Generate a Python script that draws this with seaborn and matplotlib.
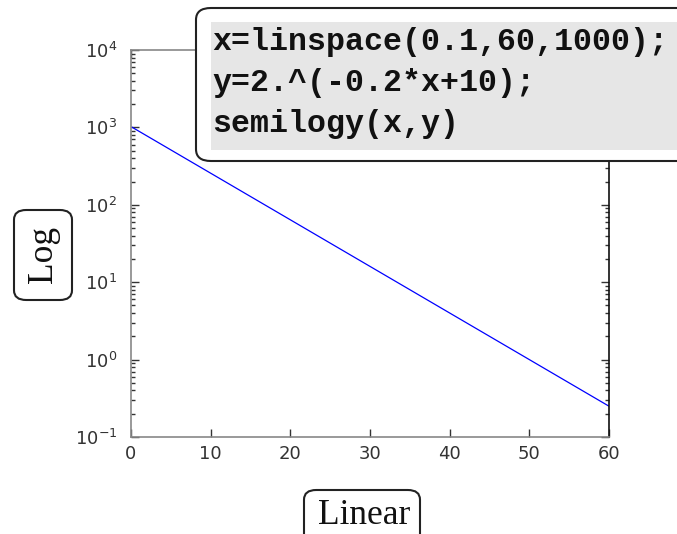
import matplotlib
matplotlib.use("Agg")
import matplotlib.pyplot as plt
import seaborn as sns
import pandas as pd
from matplotlib.patches import FancyBboxPatch, Rectangle

# Data (straight line on semilog axes)
x_vals = [0.1, 60.0]
y_vals = [1010.0, 0.25]
x_ticks = [0, 10, 20, 30, 40, 50, 60]
code_lines = ["x=linspace(0.1,60,1000);", "y=2.^(-0.2*x+10);", "semilogy(x,y)"]

sns.set_style("white")
plt.rcParams['font.family'] = ['DejaVu Sans']

W, H = 677, 534
fig = plt.figure(figsize=(W / 100, H / 100), dpi=100)

def fx(px):
    return px / W

def fy(py):
    return 1 - py / H

L, R, T, B = 131, 609, 50, 437
ax = fig.add_axes([fx(L), fy(B), (R - L) / W, (B - T) / H])
df = pd.DataFrame({"x": x_vals, "y": y_vals})
sns.lineplot(data=df, x="x", y="y", ax=ax, color="#0000ff", linewidth=0.9)
ax.set_yscale("log")
ax.set_xlim(0, 60)
ax.set_ylim(0.1, 1e4)
ax.set_xticks(x_ticks)
ax.set_xlabel("")
ax.set_ylabel("")
for side in ["left", "bottom", "top"]:
    ax.spines[side].set_color("#888888")
    ax.spines[side].set_linewidth(1.2)
ax.spines["right"].set_color("#111111")
ax.spines["right"].set_linewidth(1.2)
ax.tick_params(which="both", direction="in", top=True, right=True,
               bottom=True, left=True, colors="#333333", labelsize=13)
ax.tick_params(which="major", length=6, width=1)
ax.tick_params(which="minor", length=3, width=1)
ax.tick_params(axis="x", pad=6)
ax.tick_params(axis="y", pad=10)
ax.grid(False)

# Code box
outer = FancyBboxPatch((fx(196), fy(161)), fx(700) - fx(196), fy(8) - fy(161),
                       boxstyle="round,pad=0,rounding_size=0.022",
                       transform=fig.transFigure, facecolor="white",
                       edgecolor="#222222", linewidth=1.5, zorder=5)
fig.add_artist(outer)
inner = Rectangle((fx(211), fy(150)), fx(677) - fx(211), fy(22) - fy(150),
                  transform=fig.transFigure, facecolor="#e6e6e6",
                  edgecolor="none", zorder=6)
fig.add_artist(inner)
for i, line in enumerate(code_lines):
    fig.text(fx(212), fy(42 + 41 * i), line, family="Liberation Mono",
             fontweight="bold", fontsize=22.8, color="#111111",
             ha="left", va="center", zorder=7)

# Y label box
ylab = FancyBboxPatch((fx(14), fy(300)), fx(72) - fx(14), fy(210) - fy(300),
                      boxstyle="round,pad=0,rounding_size=0.018",
                      transform=fig.transFigure, facecolor="white",
                      edgecolor="#222222", linewidth=1.5, zorder=5)
fig.add_artist(ylab)
fig.text(fx(44), fy(255), "Log", family="Liberation Serif", fontsize=25.5,
         rotation=90, ha="center", va="center", color="#111111", zorder=7)

# X label box
xlab = FancyBboxPatch((fx(304), fy(545)), fx(420) - fx(304), fy(490) - fy(545),
                      boxstyle="round,pad=0,rounding_size=0.018",
                      transform=fig.transFigure, facecolor="white",
                      edgecolor="#222222", linewidth=1.5, zorder=5)
fig.add_artist(xlab)
fig.text(fx(364), fy(515), "Linear", family="Liberation Serif", fontsize=25.5,
         ha="center", va="center", color="#111111", zorder=7)

fig.savefig("out.png", dpi=100)
